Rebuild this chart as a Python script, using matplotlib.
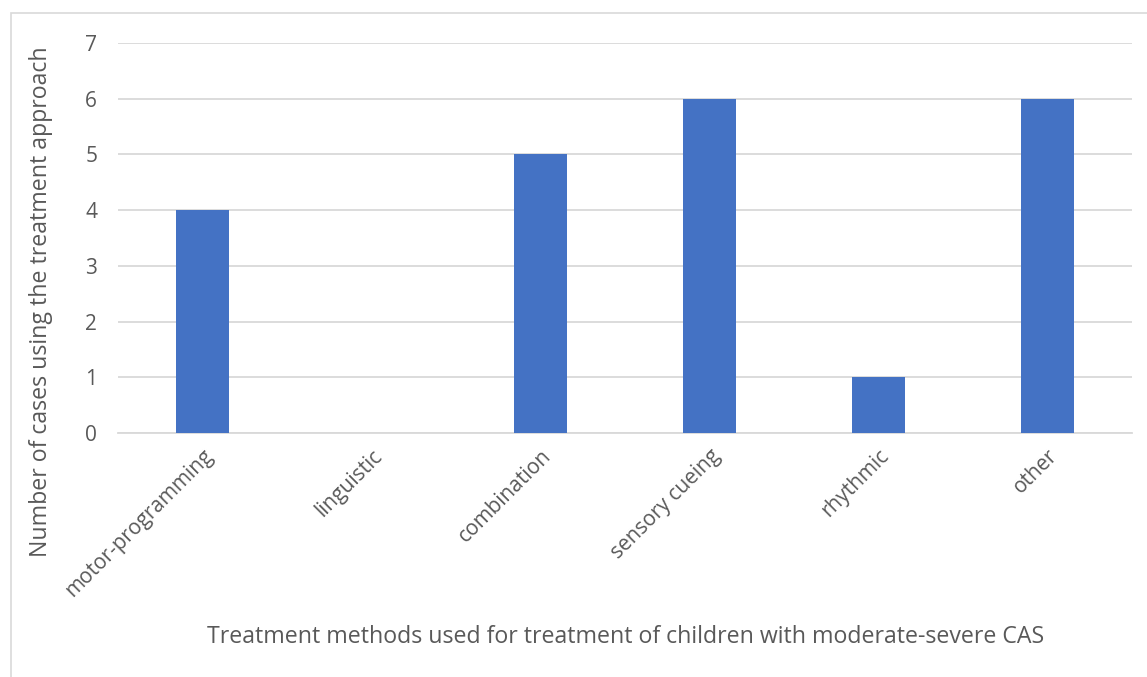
import matplotlib.pyplot as plt
from matplotlib.patches import Rectangle

categories = ["motor-programming", "linguistic", "combination",
              "sensory cueing", "rhythmic", "other"]
counts = [4, 0, 5, 6, 1, 6]
y_ticks = [0, 1, 2, 3, 4, 5, 6, 7]

text_color = "#595959"
grid_color = "#D9D9D9"
bar_color = "#4472C4"

plt.rcParams["font.family"] = ["Open Sans", "DejaVu Sans"]

fig = plt.figure(figsize=(11.47, 6.77), dpi=100)
W, H = 1147, 677

# chart frame (runs off the right and bottom edge)
fig.patches.append(Rectangle((11 / W, -0.1), 1.2, 1.1 - 13 / H,
                             transform=fig.transFigure, fill=False,
                             edgecolor=grid_color, linewidth=1.2))

ax = fig.add_axes([118 / W, 1 - 433 / H, (1132 - 118) / W, (433 - 43) / H])
x = range(len(categories))
ax.bar(x, counts, width=0.31, color=bar_color, zorder=3)

ax.set_xlim(-0.5, len(categories) - 0.5)
ax.set_ylim(0, 7)
ax.set_yticks(y_ticks)
ax.set_yticklabels([str(v) for v in y_ticks], fontsize=15, color=text_color)
ax.set_xticks(list(x))
ax.set_xticklabels(categories, rotation=45, ha="right", va="top",
                   rotation_mode="anchor", fontsize=15, color=text_color)
ax.tick_params(axis="both", length=0)
ax.tick_params(axis="y", pad=15)
ax.tick_params(axis="x", pad=9)

ax.grid(axis="y", color=grid_color, linewidth=1.3, zorder=0)
for side in ["top", "right", "left"]:
    ax.spines[side].set_visible(False)
ax.spines["bottom"].set_color(grid_color)
ax.spines["bottom"].set_linewidth(1.3)

# axis titles sit in the chart area, not centred on the plot box
fig.text(41 / W, 1 - 302 / H, "Number of cases using the treatment approach",
         rotation=90, ha="center", va="center", fontsize=16.7, color=text_color)
fig.text(626 / W, 1 - 637 / H,
         "Treatment methods used for treatment of children with moderate-severe CAS",
         ha="center", va="center", fontsize=16.7, color=text_color)

fig.savefig("out.png", dpi=100)
